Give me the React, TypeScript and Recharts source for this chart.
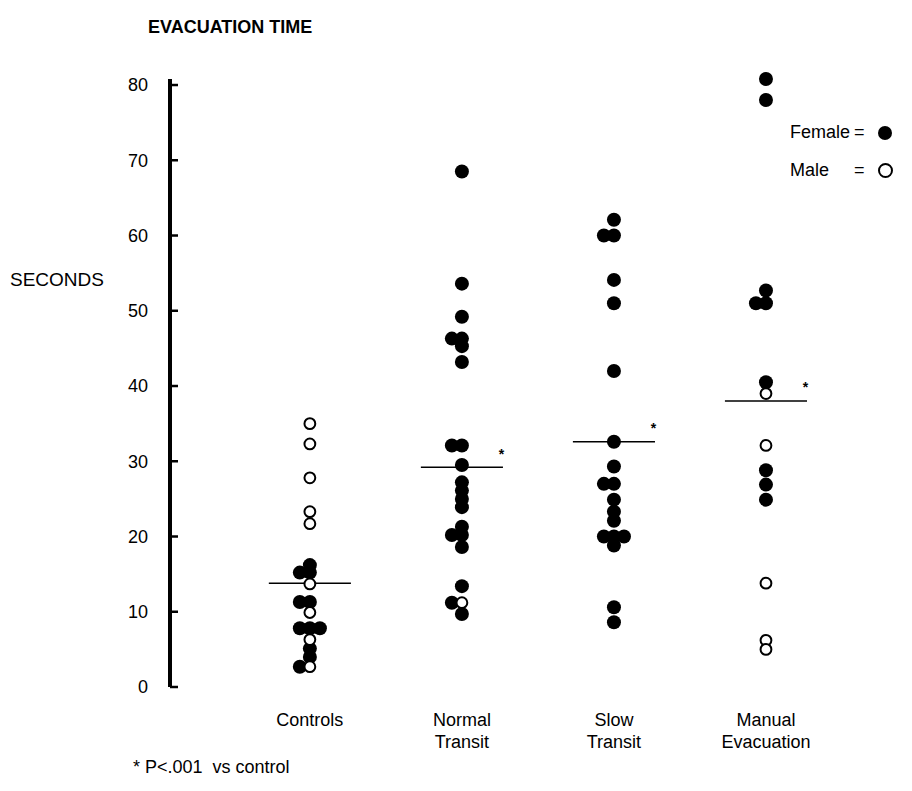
import React from 'react';
import { ScatterChart, Scatter, XAxis, YAxis, ReferenceLine } from 'recharts';

// group names as printed under the axis
const groupLabels = [['Controls'], ['Normal', 'Transit'], ['Slow', 'Transit'], ['Manual', 'Evacuation']];

// evacuation time in seconds, female = filled, male = open
const controlsFemale = [16.2, 15.2, 15.2, 11.3, 11.3, 7.8, 7.8, 7.8, 5.1, 4.0, 2.7];
const controlsMale = [35.0, 32.3, 27.8, 23.3, 21.7, 13.7, 9.9, 6.3, 2.7];

const normalFemale = [68.5, 53.6, 49.2, 46.3, 46.3, 45.3, 43.2, 32.1, 32.1, 29.5, 27.2, 26.1, 25.0, 23.9, 21.3, 20.2, 20.2, 18.6, 13.4, 11.2, 9.7];
const normalMale = [11.2];

const slowFemale = [62.1, 60.0, 60.0, 54.1, 51.0, 42.0, 32.6, 29.3, 27.0, 27.0, 24.9, 23.3, 22.1, 20.0, 20.0, 20.0, 18.8, 10.6, 8.6];
const slowMale: number[] = [];

const manualFemale = [80.8, 78.0, 52.7, 51.0, 51.0, 40.5, 28.8, 26.9, 24.9];
const manualMale = [39.0, 32.1, 13.8, 6.2, 5.0];

const medians = [13.8, 29.2, 32.6, 38.0];
const significant = [false, true, true, true];
const yTicks = [0, 10, 20, 30, 40, 50, 60, 70, 80];

const W = 912;
const H = 791;
const margin = { top: 79, right: 32, left: 110, bottom: 74 };
const Y_AXIS_W = 60;
const X_AXIS_H = 30;
const PLOT_LEFT = margin.left + Y_AXIS_W;
const PLOT_BOTTOM = H - margin.bottom - X_AXIS_H;
const JITTER = 0.066;
const FONT = '"Liberation Sans", Arial, Helvetica, sans-serif';
const FS = 18;

type Pt = { x: number; y: number };

// dots that share a row are pushed side by side: left, centre, right
function place(female: number[], male: number[], group: number) {
  const all = [
    ...female.map((v) => ({ v, male: false })),
    ...male.map((v) => ({ v, male: true })),
  ];
  const rows: { v: number; items: typeof all }[] = [];
  all.forEach((p) => {
    const row = rows.find((r) => Math.abs(r.v - p.v) < 0.3);
    if (row) row.items.push(p);
    else rows.push({ v: p.v, items: [p] });
  });
  const f: Pt[] = [];
  const m: Pt[] = [];
  rows.forEach((r) => {
    const n = r.items.length;
    r.items.forEach((p, i) => {
      const off = n === 1 ? 0 : i - 1;
      const pt = { x: group + off * JITTER, y: p.v };
      (p.male ? m : f).push(pt);
    });
  });
  return { f, m };
}

const placed = [
  place(controlsFemale, controlsMale, 1),
  place(normalFemale, normalMale, 2),
  place(slowFemale, slowMale, 3),
  place(manualFemale, manualMale, 4),
];
const femalePts = placed.flatMap((p) => p.f);
const malePts = placed.flatMap((p) => p.m);
const starPts = medians
  .map((m, i) => ({ x: i + 1 + 0.26, y: m + 1.8, show: significant[i] }))
  .filter((p) => p.show);

const FilledDot = (props: any) => <circle cx={props.cx} cy={props.cy} r={7} fill="#000" />;
const OpenDot = (props: any) => (
  <circle cx={props.cx} cy={props.cy} r={5.4} fill="#fff" stroke="#000" strokeWidth={2} />
);
const Star = (props: any) => (
  <text x={props.cx} y={props.cy} dy="0.35em" textAnchor="middle" fontSize={14} fontWeight="bold" fill="#000">
    *
  </text>
);

const YTick = (props: any) => {
  const { y, payload } = props;
  return (
    <g>
      <line x1={PLOT_LEFT} x2={PLOT_LEFT + 8} y1={y} y2={y} stroke="#000" strokeWidth={2.5} />
      <text x={PLOT_LEFT - 22} y={y} dy="0.36em" textAnchor="end" fontSize={FS} fill="#000">
        {payload.value}
      </text>
    </g>
  );
};

const XTick = (props: any) => {
  const { x, payload } = props;
  const lines = groupLabels[payload.value - 1] ?? [];
  return (
    <text x={x} y={PLOT_BOTTOM + 39} textAnchor="middle" fontSize={FS} fill="#000">
      {lines.map((l, i) => (
        <tspan key={i} x={x} dy={i === 0 ? 0 : 22}>
          {l}
        </tspan>
      ))}
    </text>
  );
};

export default function App() {
  return (
    <div style={{ position: 'absolute', left: 0, top: 0, width: W, height: H, background: '#fff', fontFamily: FONT, color: '#000' }}>
      <div style={{ position: 'absolute', left: 148, top: 17, fontSize: FS, fontWeight: 'bold' }}>EVACUATION TIME</div>
      <div style={{ position: 'absolute', left: 10, top: 269, fontSize: 19 }}>SECONDS</div>
      <div style={{ position: 'absolute', left: 133, top: 757, fontSize: FS, whiteSpace: 'pre' }}>* P&lt;.001  vs control</div>
      <div style={{ position: 'absolute', left: 790, top: 122, fontSize: FS, display: 'flex', alignItems: 'center' }}>
        <span>Female</span>
        <span style={{ marginLeft: 4 }}>=</span>
        <span style={{ display: 'inline-block', width: 14, height: 14, borderRadius: 7, background: '#000', marginLeft: 13 }} />
      </div>
      <div style={{ position: 'absolute', left: 790, top: 160, fontSize: FS, display: 'flex', alignItems: 'center' }}>
        <span>Male</span>
        <span style={{ marginLeft: 25 }}>=</span>
        <span style={{ display: 'inline-block', width: 11, height: 11, borderRadius: 8, border: '2px solid #000', marginLeft: 13 }} />
      </div>
      <ScatterChart width={W} height={H} margin={margin}>
        <XAxis
          type="number"
          dataKey="x"
          domain={[0.08, 4.75]}
          ticks={[1, 2, 3, 4]}
          axisLine={false}
          tickLine={false}
          tick={<XTick />}
          height={X_AXIS_H}
          allowDataOverflow
        />
        <YAxis
          type="number"
          dataKey="y"
          domain={[0, 80]}
          ticks={yTicks}
          width={Y_AXIS_W}
          axisLine={{ stroke: '#000', strokeWidth: 4 }}
          tickLine={false}
          tick={<YTick />}
        />
        {medians.map((m, i) => (
          <ReferenceLine
            key={i}
            segment={[
              { x: i + 1 - 0.27, y: m },
              { x: i + 1 + 0.27, y: m },
            ]}
            stroke="#000"
            strokeWidth={1.5}
            ifOverflow="visible"
          />
        ))}
        <Scatter name="Female" data={femalePts} shape={<FilledDot />} isAnimationActive={false} />
        <Scatter name="Male" data={malePts} shape={<OpenDot />} isAnimationActive={false} />
        <Scatter name="sig" data={starPts} shape={<Star />} isAnimationActive={false} />
      </ScatterChart>
    </div>
  );
}
